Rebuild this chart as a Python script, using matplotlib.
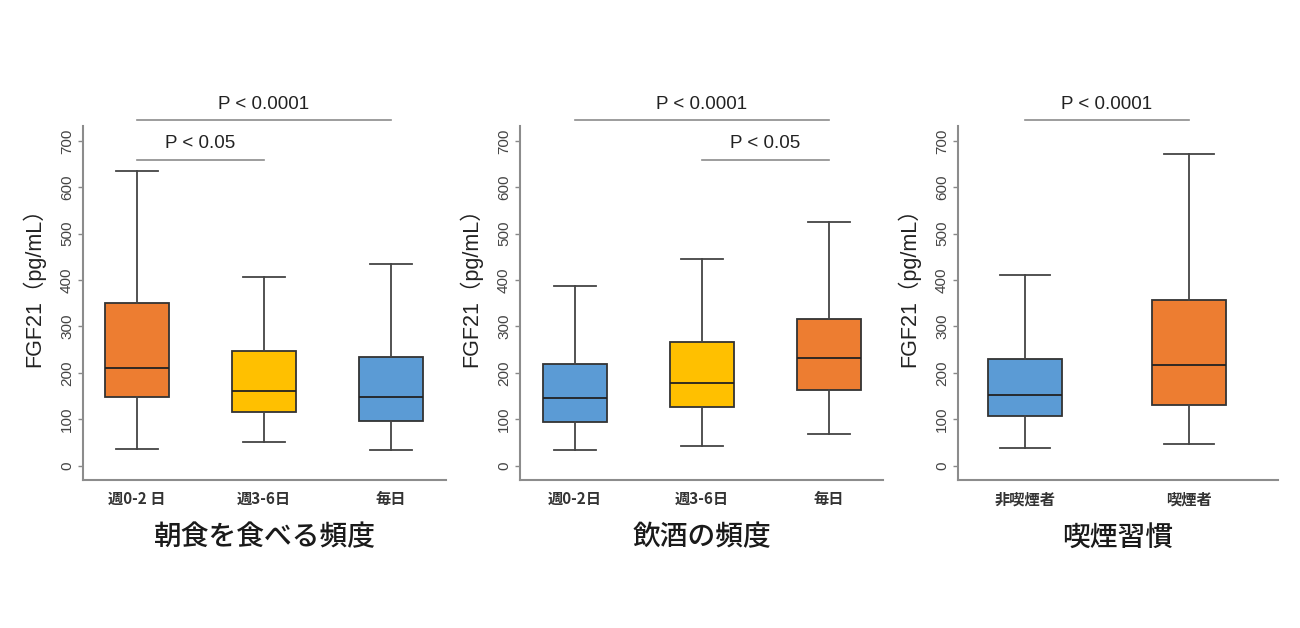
import matplotlib
matplotlib.use("Agg")
import matplotlib.pyplot as plt

plt.rcParams['font.family'] = ['Noto Sans CJK JP', 'DejaVu Sans']

# colours (Office palette)
ORANGE = "#ED7D31"
YELLOW = "#FFC000"
BLUE = "#5B9BD5"

# panel 1: breakfast frequency
breakfast_labels = ["週0-2 日", "週3-6日", "毎日"]
breakfast_low = [35, 50, 33]
breakfast_q1 = [147, 116, 97]
breakfast_med = [210, 161, 148]
breakfast_q3 = [351, 247, 234]
breakfast_high = [634, 406, 434]
breakfast_colors = [ORANGE, YELLOW, BLUE]

# panel 2: drinking frequency
drink_labels = ["週0-2日", "週3-6日", "毎日"]
drink_low = [33, 42, 69]
drink_q1 = [94, 127, 162]
drink_med = [146, 179, 233]
drink_q3 = [220, 267, 316]
drink_high = [387, 445, 525]
drink_colors = [BLUE, YELLOW, ORANGE]

# panel 3: smoking
smoke_labels = ["非喫煙者", "喫煙者"]
smoke_low = [37, 47]
smoke_q1 = [108, 131]
smoke_med = [153, 216]
smoke_q3 = [230, 356]
smoke_high = [411, 672]
smoke_colors = [BLUE, ORANGE]

# significance brackets: (from, to, text, level)
breakfast_sig = [(1, 3, "P < 0.0001", 0), (1, 2, "P < 0.05", 1)]
drink_sig = [(1, 3, "P < 0.0001", 0), (2, 3, "P < 0.05", 1)]
smoke_sig = [(1, 2, "P < 0.0001", 0)]

SIG_Y = [745, 659]
SIG_TXT = [779, 695]

LATIN = ["Liberation Sans", "Noto Sans CJK JP", "DejaVu Sans"]

fig = plt.figure(figsize=(13, 6.28), dpi=100)
W, H = 1300, 628


def make_stats(low, q1, med, q3, high):
    out = []
    for lo, a, m, b, hi in zip(low, q1, med, q3, high):
        out.append({"whislo": lo, "q1": a, "med": m, "q3": b, "whishi": hi, "fliers": []})
    return out


def draw_panel(ax, labels, stats, colors, sigs, xlabel, xlim, width, capw):
    pos = list(range(1, len(labels) + 1))
    bp = ax.bxp(stats, positions=pos, widths=width, patch_artist=True,
                showfliers=False, capwidths=capw,
                boxprops=dict(edgecolor="#333333", linewidth=1.3),
                medianprops=dict(color="#222222", linewidth=1.3),
                whiskerprops=dict(color="#444444", linewidth=1.3),
                capprops=dict(color="#444444", linewidth=1.3))
    for patch, c in zip(bp["boxes"], colors):
        patch.set_facecolor(c)

    ax.set_xlim(*xlim)
    ax.set_ylim(-31, 732)
    ax.set_yticks(range(0, 701, 100))
    ax.set_xticks(pos)
    ax.set_xticklabels(labels, fontsize=11, fontweight="bold", color="#333333")
    ax.tick_params(axis="x", length=0, pad=8)
    ax.tick_params(axis="y", length=3.5, width=1, color="#888888", pad=3,
                   labelsize=11, labelcolor="#444444", labelrotation=90,
                   labelfontfamily="Liberation Sans")
    for t in ax.get_yticklabels():
        t.set_va("center")
    for s in ["top", "right"]:
        ax.spines[s].set_visible(False)
    for s in ["left", "bottom"]:
        ax.spines[s].set_color("#8c8c8c")
        ax.spines[s].set_linewidth(1.5)

    ax_w = ax.get_position().width * W
    ax.set_ylabel("FGF21（pg/mL）", fontsize=15.5, family=LATIN, color="#222222")
    ax.yaxis.set_label_coords(-38 / ax_w, 0.56)
    ax.set_xlabel(xlabel, fontsize=20, fontweight="medium", color="#1a1a1a", labelpad=11)

    for a, b, txt, lvl in sigs:
        ax.plot([a, b], [SIG_Y[lvl], SIG_Y[lvl]], color="#8c8c8c", linewidth=1.2,
                clip_on=False)
        ax.text((a + b) / 2, SIG_TXT[lvl], txt, ha="center", va="center",
                fontsize=13.5, family=LATIN, color="#222222", clip_on=False)


def axes_px(left, right, top, bottom):
    return fig.add_axes([left / W, 1 - bottom / H, (right - left) / W, (bottom - top) / H])


ax1 = axes_px(83, 446, 126, 480)
ax2 = axes_px(520, 883, 126, 480)
ax3 = axes_px(958, 1278, 126, 480)

draw_panel(ax1, breakfast_labels,
           make_stats(breakfast_low, breakfast_q1, breakfast_med, breakfast_q3, breakfast_high),
           breakfast_colors, breakfast_sig, "朝食を食べる頻度", (0.575, 3.433), 0.5, 0.33)
draw_panel(ax2, drink_labels,
           make_stats(drink_low, drink_q1, drink_med, drink_q3, drink_high),
           drink_colors, drink_sig, "飲酒の頻度", (0.567, 3.425), 0.5, 0.33)
draw_panel(ax3, smoke_labels,
           make_stats(smoke_low, smoke_q1, smoke_med, smoke_q3, smoke_high),
           smoke_colors, smoke_sig, "喫煙習慣", (0.591, 2.543), 0.45, 0.3)

fig.savefig("out.png", dpi=100, facecolor="white")
